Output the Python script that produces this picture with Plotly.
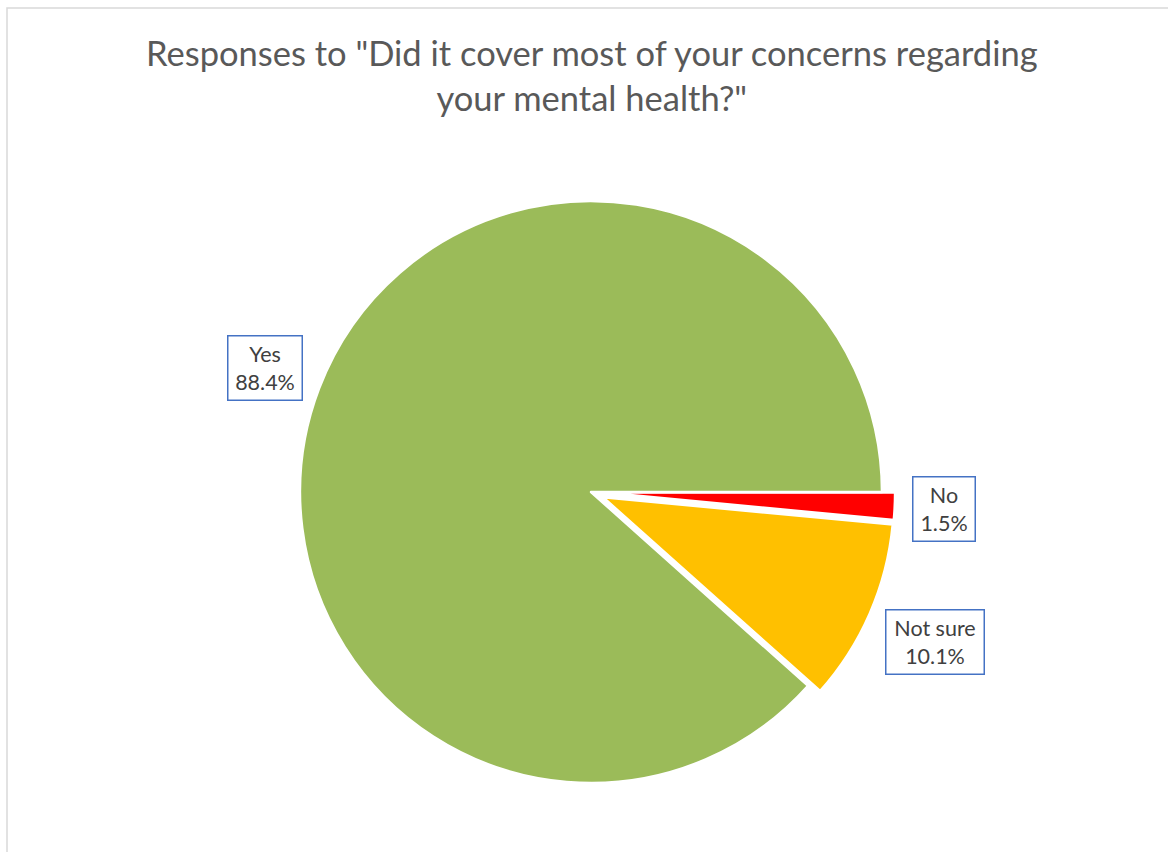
import math
import plotly.graph_objects as go

# ---- data ----
labels = ["No", "Not sure", "Yes"]
values = [1.5, 10.1, 88.4]
colors = ["#FF0000", "#FFC000", "#9BBB59"]
pulls = [0.045, 0.045, 0.0]
title_text = 'Responses to "Did it cover most of your concerns regarding<br>your mental health?"'

# ---- layout geometry / styles (pixels) ----
W, H = 1168, 852
cx, cy, R = 591, 492, 291
box_w = {"No": 64, "Not sure": 100, "Yes": 76}
box_h = 66
gap = 17
bw, pad = 1.5, 5

maxpull = max(pulls)
half = R * (1 + maxpull)
domain_x = [(cx - half) / W, (cx + half) / W]
domain_y = [(H - cy - half) / H, (H - cy + half) / H]

fig = go.Figure(go.Pie(
    labels=labels, values=values, sort=False, direction="clockwise", rotation=90,
    pull=pulls, marker=dict(colors=colors, line=dict(color="white", width=2.5)),
    textinfo="none", hoverinfo="label+percent", showlegend=False,
    domain=dict(x=domain_x, y=domain_y),
))

# label boxes placed outside each slice at its mid angle, a fixed gap from the edge
total = sum(values)
cum = 0.0
annotations = []
for lab, v, p in zip(labels, values, pulls):
    mid = (cum + v / 2) / total * 2 * math.pi
    cum += v
    c, s = math.cos(mid), math.sin(mid)
    hw, hh = box_w[lab] / 2, box_h / 2
    ext = min(hw / abs(c) if abs(c) > 1e-9 else 1e9, hh / abs(s) if abs(s) > 1e-9 else 1e9)
    dist = R * (1 + p) + gap + ext
    px = cx + dist * c
    py = cy + dist * s
    annotations.append(dict(
        x=px / W, y=1 - py / H, xref="paper", yref="paper",
        text=f"{lab}<br>{v:.1f}%", showarrow=False, xanchor="center", yanchor="middle",
        width=box_w[lab] - 2 * (bw + pad), height=box_h - 2 * (bw + pad),
        font=dict(family="Lato", size=21.5, color="#404040"),
        bordercolor="#4472C4", borderwidth=bw, borderpad=pad, bgcolor="white",
    ))

# chart title
annotations.append(dict(
    x=592 / W, y=1 - 75 / H, xref="paper", yref="paper", text=title_text, showarrow=False,
    xanchor="center", yanchor="middle", align="center",
    font=dict(family="Lato", size=34.5, color="#595959"),
))

fig.update_layout(
    width=W, height=H, margin=dict(l=0, r=0, t=0, b=0),
    paper_bgcolor="white", plot_bgcolor="white",
    annotations=annotations,
    shapes=[dict(type="rect", xref="paper", yref="paper", x0=7 / W, x1=1.05, y0=-0.05, y1=1 - 8 / H,
                 line=dict(color="#D9D9D9", width=1.5), fillcolor="rgba(0,0,0,0)", layer="below")],
)

fig.write_html("out.html")
